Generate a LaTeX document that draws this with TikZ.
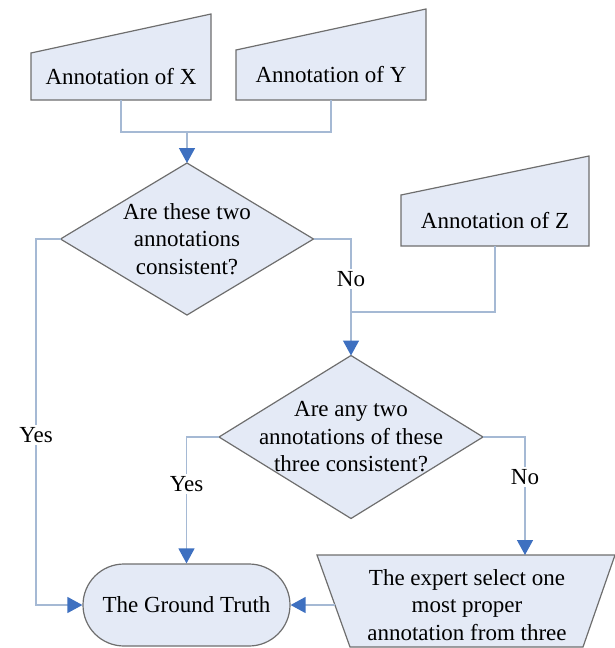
\documentclass[tikz,border=0pt]{standalone}
\usepackage{fontspec}
\setmainfont{Liberation Serif}
\usetikzlibrary{shapes.geometric,arrows.meta,backgrounds,calc}
\definecolor{boxfill}{RGB}{228,234,246}
\definecolor{boxline}{RGB}{110,110,110}
\definecolor{linkline}{RGB}{165,185,212}
\definecolor{tipblue}{RGB}{62,112,192}
\tikzset{
  txt/.style={font=\fontsize{23}{27.5}\selectfont, align=center, inner sep=0pt},
  inbox/.style={txt, outer sep=0pt},
  shapeline/.style={draw=boxline, fill=boxfill, line width=1.2pt},
  decision/.style={shapeline, diamond, inner sep=0pt, outer sep=0pt},
  link/.style={draw=linkline, line width=1.4pt},
  arrowlink/.style={link, -{Triangle[width=16pt,length=15pt,color=tipblue,fill=tipblue]}},
  ans/.style={font=\fontsize{23}{27}\selectfont, fill=white, inner sep=2pt}
}
\begin{document}
\begin{tikzpicture}[x=1pt,y=1pt,yscale=-1]
\useasboundingbox (0,0) rectangle (615,648);

% input boxes
\node[inbox, minimum width=180pt, minimum height=47pt] (annX) at (121,76.5) {Annotation of X};
\node[inbox, minimum width=190pt, minimum height=50pt] (annY) at (331,75) {Annotation of Y};
\node[inbox, minimum width=188pt, minimum height=51pt] (annZ) at (495,220.5) {Annotation of Z};

% decisions
\node[decision, minimum width=253pt, minimum height=152pt] (dec1) at (187,239) {};
\node[txt] (dec1txt) at (dec1.center) {Are these two\\annotations\\consistent?};
\node[decision, minimum width=264pt, minimum height=163pt] (dec2) at (351,437) {};
\node[txt] (dec2txt) at (dec2.center) {Are any two\\annotations of these\\three consistent?};

% results
\node[shapeline, txt, rounded corners=41pt, minimum width=207pt, minimum height=82pt] (truth) at (186.5,605) {The Ground Truth};
\node[txt] (expert) at (467,605) {The expert select one\\most proper\\annotation from three};

\begin{pgfonlayer}{background}
  \draw[shapeline] (annX.south west) -- (annX.south east) -- ($(annX.north east)+(0,-39)$) -- (annX.north west) -- cycle;
  \draw[shapeline] (annY.south west) -- (annY.south east) -- ($(annY.north east)+(0,-41)$) -- (annY.north west) -- cycle;
  \draw[shapeline] (annZ.south west) -- (annZ.south east) -- ($(annZ.north east)+(0,-39)$) -- (annZ.north west) -- cycle;
  \draw[shapeline] (317,555) -- (615,555) -- (583,647) -- (350,647) -- cycle;
\end{pgfonlayer}

\coordinate (joinXY) at (187,132);
\coordinate (joinZ) at (351,312);
\coordinate (yesLeft) at (36,605);
\coordinate (expTop) at (525,555);
\coordinate (expLeft) at (335,605);

% connectors
\draw[link] (annX.south) |- (joinXY) -| (annY.south);
\draw[arrowlink] (joinXY) -- (dec1.north);
\draw[link] (annZ.south) |- (joinZ);
\draw[arrowlink] (dec1.east) -| (dec2.north);
\draw[arrowlink] (dec1.west) -| (yesLeft) -- (truth.west);
\draw[arrowlink] (dec2.west) -| (truth.north);
\draw[arrowlink] (dec2.east) -| (expTop);
\draw[arrowlink] (expLeft) -- (truth.east);

% labels
\node[ans] (no1) at (351,279) {No};
\node[ans] (yes1) at (36,435) {Yes};
\node[ans] (yes2) at (186.5,484) {Yes};
\node[ans] (no2) at (525,477) {No};
\end{tikzpicture}
\end{document}
